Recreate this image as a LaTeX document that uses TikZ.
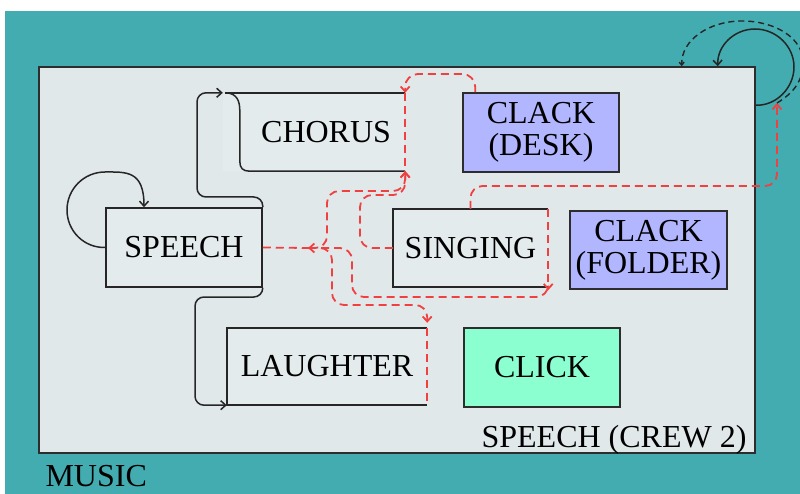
\documentclass[tikz,border=0pt]{standalone}
\usepackage{fontspec}
\setmainfont{Liberation Serif}
\usetikzlibrary{arrows.meta,calc}

\definecolor{musicbg}{RGB}{67,172,176}
\definecolor{crewbg}{RGB}{225,232,234}
\definecolor{boxbg}{RGB}{228,235,237}
\definecolor{clackbg}{RGB}{178,182,255}
\definecolor{clickbg}{RGB}{140,255,208}
\definecolor{flowred}{RGB}{240,64,64}
\definecolor{edgegray}{RGB}{45,45,45}

\tikzset{
  lbl/.style={font=\fontsize{32}{32}\selectfont, text=black},
  area/.style={rectangle, inner sep=0pt},
  plainbox/.style={area, fill=boxbg},
  clackbox/.style={area, fill=clackbg, draw=edgegray, line width=1.5pt, align=center},
  clickbox/.style={area, fill=clickbg, draw=edgegray, line width=1.5pt},
  edge/.style={draw=black!85, line width=1.5pt},
  flow/.style={draw=black!85, line width=1.5pt, rounded corners=9pt,
    -{Straight Barb[length=5pt,width=9pt]}},
  redflow/.style={draw=flowred, line width=1.8pt, dash pattern=on 8pt off 5pt,
    rounded corners=12pt},
  redtip/.style={-{Straight Barb[length=5pt,width=9pt]}},
  reddash/.style={draw=flowred, line width=1.8pt, dash pattern=on 8pt off 5pt},
}

\begin{document}
\begin{tikzpicture}[x=1pt,y=-1pt]
\useasboundingbox (0,0) rectangle (800,494);
\fill[white] (0,0) rectangle (800,494);
\fill[musicbg] (5,11) rectangle (800,494);

% outer scope and crew area
\node[area, fill=crewbg, draw=edgegray, line width=1.6pt,
      minimum width=716pt, minimum height=386pt] (crew) at (397,260) {};
\node[lbl, anchor=base east] (crewlbl) at (750,447) {SPEECH (CREW 2)};
\node[lbl, anchor=base west] (musiclbl) at (42,486) {MUSIC};

% boxes
\node[plainbox, lbl, draw=black!85, line width=1.5pt,
      minimum width=156pt, minimum height=79pt] (speech) at (184,247.5) {SPEECH};
\node[plainbox, lbl, minimum width=182pt, minimum height=78pt,
      text width=154pt, inner xsep=14pt, align=right] (chorus) at (314,132) {CHORUS};
\node[plainbox, lbl, minimum width=155pt, minimum height=78pt] (singing) at (470.5,248) {SINGING};
\node[plainbox, lbl, minimum width=200pt, minimum height=77pt] (laughter) at (327,366.5) {LAUGHTER};
\node[clackbox, lbl, minimum width=156pt, minimum height=79pt] (desk) at (541,132.5) {CLACK\\(DESK)};
\node[clackbox, lbl, minimum width=157pt, minimum height=78pt] (folder) at (648.5,250) {CLACK\\(FOLDER)};
\node[clickbox, lbl, minimum width=156pt, minimum height=79pt] (click) at (542,367.5) {CLICK};

% box outlines drawn side by side
\draw[edge] ($(chorus.north west)+(2,0)$) -- (chorus.north east);
\draw[edge] ($(chorus.north west)+(4,0)$) .. controls ($(chorus.north west)+(14,1)$) and ($(chorus.north west)+(17,8)$) ..
  ($(chorus.north west)+(17,18)$) -- ($(chorus.south west)+(17,-10)$)
  .. controls ($(chorus.south west)+(17,-3)$) and ($(chorus.south west)+(20,0)$) ..
  ($(chorus.south west)+(27,0)$) -- (chorus.south east);
\draw[edge] (singing.south east) -- (singing.south west) -- (singing.north west) -- (singing.north east);
\draw[edge] (laughter.north east) -- (laughter.north west) -- (laughter.south west) -- (laughter.south east);
\draw[reddash] (chorus.north east) -- (chorus.south east);
\draw[reddash] (singing.north east) -- (singing.south east);
\draw[reddash] (laughter.north east) -- (laughter.south east);

% black connectors
\draw[flow] (speech.north east) |- (197,197) |- (chorus.north west);
\draw[flow] (speech.south east) |- (195,297) |- (laughter.south west);
\draw[flow, rounded corners=0pt] (speech.west) .. controls (84,248) and (67,231) .. (67,210)
  .. controls (67,189) and (84,172) .. (105,172)
  .. controls (126,172) and ($(speech.north)+(-40,-37)$) .. ($(speech.north)+(-40,0)$);

% loop on the crew area
\coordinate (crewout) at ($(crew.north east)+(0,39)$);
\coordinate (crewin) at ($(crew.north east)+(-38,0)$);
\draw[flow, rounded corners=0pt] (crewout) .. controls (776,106) and (794,88) .. (794,67)
  .. controls (794,46) and (776,29) .. (755,29)
  .. controls (734,29) and (717,46) .. (crewin);

% red connectors
\coordinate (fork) at (308,248);
\coordinate (musicpt) at (777,103);
\coordinate (crewtop) at ($(crew.north east)+(-74,0)$);
\draw[reddash] (speech.east) -- (fork);
\draw[redflow, {Straight Barb[length=5pt,width=9pt]}-{Straight Barb[length=5pt,width=9pt]}]
  (fork) -| (327,191) -| (chorus.south east);
\draw[redflow, redtip] (singing.west) -| (360,195) -| (chorus.south east);
\draw[redflow, redtip] (fork) -| (332,305) -| ($(laughter.north east)+(0,-5)$);
\draw[redflow, redtip] (fork) -| (352,297) -| ($(singing.south east)+(0,3)$);
\draw[redflow, redtip, rounded corners=13pt] ($(desk.north west)+(13,0)$) |- (405,74) -- (chorus.north east);
\draw[redflow, redtip] (singing.north) |- (777,186) -- (musicpt);

% dashed loop from the music point back onto the crew area
\draw[draw=black!85, line width=1.4pt, dash pattern=on 6pt off 4pt,
      -{Straight Barb[length=3pt,width=5pt]}]
  (musicpt) .. controls (795,92) and (803,80) .. (803,62)
  .. controls (803,38) and (775,21) .. (742,21)
  .. controls (709,21) and (681,40) .. (crewtop);
\end{tikzpicture}
\end{document}
